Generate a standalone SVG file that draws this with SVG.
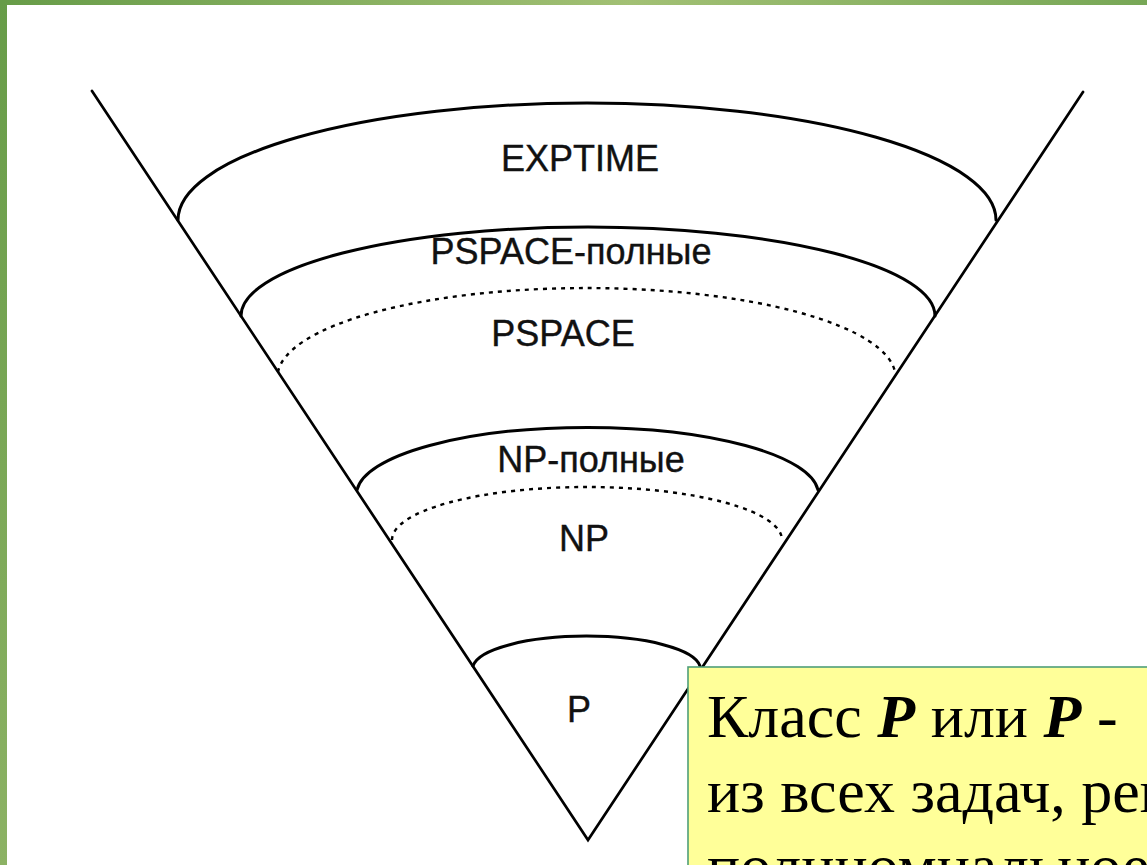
<svg xmlns="http://www.w3.org/2000/svg" width="1147" height="865" viewBox="0 0 1147 865">
  <style>
    .edge { fill: none; stroke: #000; stroke-width: 2.7; stroke-linecap: round; }
    .arc { fill: none; stroke: #000; stroke-width: 3; stroke-linecap: round; }
    .dot { fill: none; stroke: #000; stroke-width: 2.4; stroke-dasharray: 4 5; }
    .lbl { font-family: "Liberation Sans", Arial, sans-serif; font-size: 36px; fill: #111; text-anchor: middle; stroke: #111; stroke-width: 0.4; }
    .note { font-family: "Liberation Serif", "Times New Roman", serif; font-size: 62px; fill: #000; }
    .em { font-weight: bold; font-style: italic; }
  </style>
  <defs>
    <linearGradient id="topBar" x1="0" y1="0" x2="1" y2="0">
      <stop offset="0" stop-color="#679c48"/>
      <stop offset="0.55" stop-color="#a2c074"/>
      <stop offset="1" stop-color="#77a756"/>
    </linearGradient>
    <linearGradient id="sideBar" x1="0" y1="0" x2="0" y2="1">
      <stop offset="0" stop-color="#679c48"/>
      <stop offset="1" stop-color="#8cb264"/>
    </linearGradient>
  </defs>

  <!-- slide background and frame -->
  <rect x="0" y="0" width="1147" height="865" fill="#fff"/>
  <rect x="0" y="0" width="1147" height="5" fill="url(#topBar)"/>
  <rect x="0" y="0" width="7" height="865" fill="url(#sideBar)"/>

  <!-- cone sides -->
  <g id="connectors">
    <path class="edge" d="M92,91 L588,840 L1083,92"/>
  </g>

  <!-- complexity class bands -->
  <g id="exptime">
    <path class="arc" d="M178,220 A409 117 0 0 1 996,220"/>
    <text class="lbl" x="580" y="171">EXPTIME</text>
  </g>
  <g id="pspace-complete">
    <path class="arc" d="M241,316 A347 89 0 0 1 935,316"/>
    <text class="lbl" x="571" y="264">PSPACE-полные</text>
  </g>
  <g id="pspace">
    <path class="dot" d="M278,372 A309 89 0 0 1 895,372"/>
    <text class="lbl" x="563" y="346">PSPACE</text>
  </g>
  <g id="np-complete">
    <path class="arc" d="M357,490 A231 67 0 0 1 818,490"/>
    <text class="lbl" x="591" y="472">NP-полные</text>
  </g>
  <g id="np">
    <path class="dot" d="M392,540 A195 53 0 0 1 782,540"/>
    <text class="lbl" x="584" y="551">NP</text>
  </g>
  <g id="p">
    <path class="arc" d="M473,666 A114 33 0 0 1 700,666"/>
    <text class="lbl" x="579" y="722">P</text>
  </g>

  <!-- definition callout -->
  <g id="note">
    <rect x="688" y="667" width="470" height="210" fill="#ffff99" stroke="#4f9f78" stroke-width="1.6"/>
    <text class="note" x="707" y="737">Класс <tspan class="em">P</tspan> или <tspan class="em">P</tspan> -</text>
    <text class="note" x="707" y="812">из всех задач, решаемых</text>
    <text class="note" x="707" y="887">полиномиальное</text>
  </g>
</svg>
